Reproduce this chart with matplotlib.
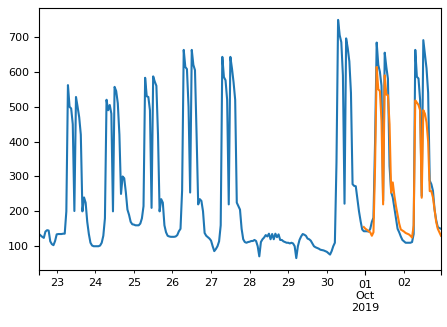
import numpy as np
import pandas as pd
import matplotlib
matplotlib.use("Agg")
import matplotlib.pyplot as plt
import matplotlib.dates as mdates
from matplotlib.ticker import FixedLocator, FixedFormatter

# hourly load, Sep 22 13:00 -> Oct 2 23:00
start = "2019-09-22 13:00"
sep22 = [135, 131, 127, 124, 142, 146, 145, 114, 106, 103, 115]
sep23 = [134, 135, 135, 135, 136, 136, 200, 562, 500, 495, 450, 201,
         528, 500, 470, 420, 200, 240, 225, 170, 135, 110, 102, 100]
sep24 = [100, 100, 100, 102, 110, 130, 180, 520, 490, 505, 480, 200,
         557, 545, 510, 420, 250, 300, 295, 255, 205, 190, 170, 163]
sep25 = [162, 160, 160, 160, 165, 180, 215, 583, 530, 528, 490, 210,
         587, 572, 560, 420, 200, 235, 225, 160, 140, 130, 128, 127]
sep26 = [127, 127, 128, 132, 143, 150, 260, 663, 614, 608, 500, 254,
         663, 620, 605, 420, 220, 235, 230, 200, 138, 130, 126, 122]
sep27 = [116, 100, 86, 92, 100, 114, 160, 643, 585, 576, 520, 220,
         643, 610, 570, 520, 225, 215, 205, 150, 120, 112, 110, 112]
sep28 = [113, 115, 115, 118, 115, 100, 71, 112, 120, 125, 132, 128,
         136, 120, 135, 120, 136, 126, 134, 118, 118, 114, 112, 110]
sep29 = [110, 108, 110, 108, 100, 66, 100, 118, 128, 135, 133, 130,
         122, 120, 116, 108, 100, 97, 95, 93, 90, 89, 88, 86]
sep30 = [84, 80, 76, 86, 100, 110, 340, 749, 705, 685, 590, 222,
         696, 668, 630, 540, 278, 273, 272, 235, 200, 172, 148, 143]
oct01 = [143, 143, 142, 150, 170, 182, 400, 684, 620, 600, 560, 230,
         655, 614, 580, 330, 255, 240, 210, 180, 150, 140, 128, 118]
oct02 = [114, 110, 110, 110, 110, 112, 135, 663, 586, 581, 520, 244,
         691, 650, 610, 540, 288, 278, 259, 205, 175, 155, 152, 150]

actual = sep22 + sep23 + sep24 + sep25 + sep26 + sep27 + sep28 + sep29 + sep30 + oct01 + oct02

# forecast, Sep 30 23:00 -> Oct 2 23:00
pred_start = "2019-09-30 23:00"
predicted = [155,
             150, 147, 143, 140, 130, 140, 330, 614, 550, 545, 460, 220,
             590, 535, 533, 450, 254, 283, 245, 215, 190, 165, 148, 145,
             142, 138, 136, 134, 130, 125, 160, 518, 512, 505, 490, 239,
             490, 480, 455, 400, 258, 258, 240, 205, 170, 150, 140, 130]

idx = pd.date_range(start, periods=len(actual), freq="h")
pidx = pd.date_range(pred_start, periods=len(predicted), freq="h")

plt.rcParams["font.size"] = 8

fig = plt.figure(figsize=(4.47, 3.27), dpi=100)
ax = fig.add_axes([39 / 447, 57 / 327, 402 / 447, 262 / 327])

ax.plot(idx, actual, color="#1f77b4", lw=1.5)
ax.plot(pidx, predicted, color="#ff7f0e", lw=1.5)

ax.set_xlim(idx[0], idx[-1])

# day ticks as minor, month marker as major (pandas-style)
days = pd.date_range("2019-09-23", "2019-10-02", freq="D")
ax.xaxis.set_minor_locator(FixedLocator(mdates.date2num(days)))
ax.xaxis.set_minor_formatter(mdates.DateFormatter("%d"))
major = [idx[0], pd.Timestamp("2019-10-01"), idx[-1]]
ax.xaxis.set_major_locator(FixedLocator(mdates.date2num(major)))
ax.xaxis.set_major_formatter(FixedFormatter(["", "01\nOct\n2019", ""]))

fig.savefig("out.png", dpi=100)
